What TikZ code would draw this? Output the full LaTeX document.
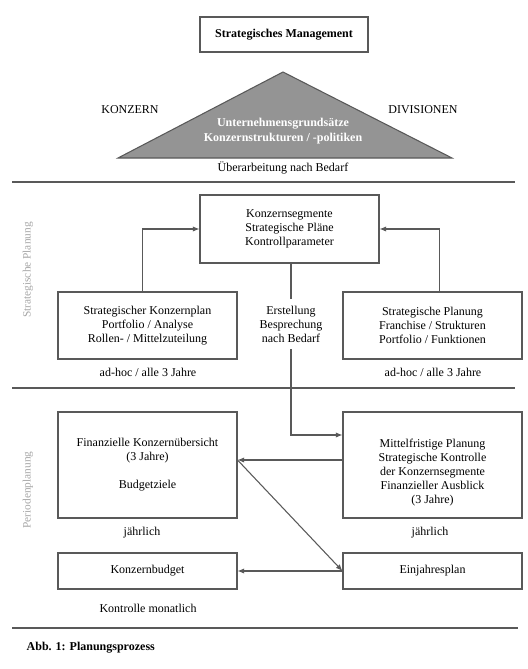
\documentclass[tikz,border=0pt]{standalone}
\usepackage{fontspec}
\setmainfont{Liberation Serif}
\usetikzlibrary{arrows.meta}
\definecolor{linegray}{rgb}{0.35,0.35,0.35}
\definecolor{trigray}{rgb}{0.58,0.58,0.58}
\definecolor{sidegray}{rgb}{0.65,0.65,0.65}

\begin{document}
\begin{tikzpicture}[x=0.75pt, y=-0.75pt,
    box/.style={rectangle, draw=linegray, line width=0.8pt, minimum width=134.25pt, minimum height=50.25pt, align=center, font=\fontsize{9}{10.5}\selectfont},
    note/.style={align=center, font=\fontsize{9}{10.5}\selectfont},
    side/.style={rotate=90, text=sidegray, font=\fontsize{8.5}{10}\selectfont},
    arrow/.style={-{Latex[length=5pt,width=4pt]}, draw=linegray, line width=0.8pt},
    sep/.style={draw=linegray, line width=0.8pt}
]
    \useasboundingbox (0,0) rectangle (528,669);

    % oberer Teil
    \node[box, minimum width=126pt, minimum height=26.25pt, font=\fontsize{9}{10.5}\selectfont\bfseries] (sm) at (284,34.5) {Strategisches Management};
    \draw[draw=linegray, fill=trigray, line width=0.8pt] (283,72) -- (452,158) -- (118,158) -- cycle;
    \node[note, text=white, font=\fontsize{9}{11.5}\selectfont\bfseries] (grund) at (283,131) {Unternehmensgrunds\"atze\\Konzernstrukturen / -politiken};
    \node[note] (konzern) at (130,110) {KONZERN};
    \node[note] (divisionen) at (423,110) {DIVISIONEN};
    \node[note] (ueber) at (283,168) {\"Uberarbeitung nach Bedarf};
    \draw[sep] (12,182) -- (515,182);

    % strategische Planung
    \node[side] (stratlabel) at (28,270) {Strategische Planung};
    \node[box, minimum height=51pt] (kseg) at (289.5,229) {Konzernsegmente\\Strategische Pl\"ane\\Kontrollparameter};
    \node[box] (skp) at (147.5,325.5) {Strategischer Konzernplan\\Portfolio / Analyse\\Rollen- / Mittelzuteilung};
    \node[box] (spl) at (432.5,325.5) {Strategische Planung\\Franchise / Strukturen\\Portfolio / Funktionen};
    \node[note, inner sep=5pt] (erst) at (291,324) {Erstellung\\Besprechung\\nach Bedarf};
    \node[note] (adhocl) at (148,372) {ad-hoc / alle 3 Jahre};
    \node[note] (adhocr) at (433,372) {ad-hoc / alle 3 Jahre};

    \draw[arrow] ([xshift=-4pt]skp.north) |- (kseg.west);
    \draw[arrow] ([xshift=5pt]spl.north) |- (kseg.east);
    \draw[sep] (kseg.south -| erst.north) -- (erst.north);
    \draw[sep] (12,388) -- (515,388);

    % Periodenplanung
    \node[side] (periodlabel) at (28,490) {Periodenplanung};
    \node[box, minimum height=79.5pt] (fko) at (147.5,465) {Finanzielle Konzern\"ubersicht\\(3 Jahre)\\[10.5pt]Budgetziele};
    \node[box, minimum height=79.5pt] (mfp) at (432.5,465) {\rule{0pt}{18pt}Mittelfristige Planung\\Strategische Kontrolle\\der Konzernsegmente\\Finanzieller Ausblick\\(3 Jahre)};
    \node[note] (jahrl) at (142,533) {j\"ahrlich};
    \node[note] (jahrr) at (430,533) {j\"ahrlich};
    \node[box, minimum height=27pt] (kb) at (147.5,571) {Konzernbudget};
    \node[box, minimum height=27pt] (ejp) at (432.5,571) {Einjahresplan};
    \node[note] (kontr) at (148,608) {Kontrolle monatlich};

    \draw[arrow] (erst.south) |- ([yshift=22.5pt]mfp.west);
    \draw[arrow] ([yshift=3.75pt]mfp.west) -- ([yshift=3.75pt]fko.east);
    \draw[arrow] ([yshift=3.75pt]fko.east) -- (ejp.west);
    \draw[arrow] (ejp.west) -- (kb.east);
    \draw[sep] (12,628) -- (518,628);

    \node[anchor=west, font=\fontsize{9}{10.5}\selectfont\bfseries] (abb) at (22,648) {Abb. 1: Planungsprozess};
\end{tikzpicture}
\end{document}
